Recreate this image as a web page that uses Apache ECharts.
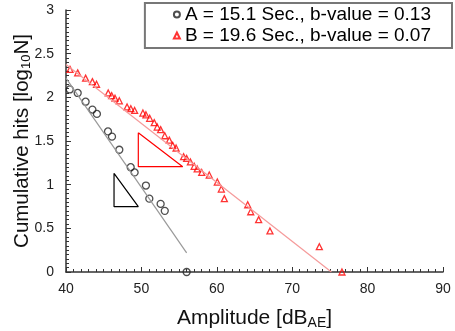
<!DOCTYPE html>
<html><head><meta charset="utf-8">
<script src="https://cdn.jsdelivr.net/npm/echarts@6/dist/echarts.min.js"></script>
<style>html,body{margin:0;padding:0;background:#fff}#c{width:455px;height:331px}</style>
</head><body><div id="c"></div>
<script>
var xA = [40.5, 41.55, 42.6, 43.5, 44.1, 45.57, 46.1, 47.07, 48.58, 49.1, 50.6, 51.05, 52.55, 53.1, 56.0];
var yA = [2.09, 2.05, 1.95, 1.86, 1.81, 1.61, 1.55, 1.40, 1.20, 1.14, 0.99, 0.84, 0.78, 0.70, 0];
var xB = [40.53, 41.55, 42.6, 43.5, 44.05, 45.6, 46.05, 46.5, 47.07, 48.1, 48.6, 49.1, 50.2, 50.6, 51.1, 51.7, 52.1, 52.55, 53.1, 53.7, 54.15, 54.6, 55.6, 56.0, 56.5, 57.0, 57.4, 58.0, 59.0, 60.07, 60.6, 61.0, 64.1, 64.5, 65.55, 67.05, 73.6, 76.6];
var yB = [2.32, 2.28, 2.22, 2.18, 2.15, 2.05, 2.02, 1.99, 1.96, 1.89, 1.87, 1.85, 1.82, 1.80, 1.76, 1.71, 1.66, 1.63, 1.56, 1.51, 1.45, 1.42, 1.32, 1.30, 1.26, 1.21, 1.18, 1.14, 1.11, 1.03, 0.95, 0.84, 0.77, 0.69, 0.60, 0.47, 0.29, 0];
var fitAx = [40, 56], fitAy = [2.22, 0.22];
var fitBx = [40, 75.2], fitBy = [2.376, 0];
var triAx = [46.37, 46.37, 49.59, 46.37], triAy = [1.13, 0.748, 0.748, 1.13];
var triBx = [49.59, 49.59, 55.48, 49.59], triBy = [1.595, 1.206, 1.206, 1.595];
var nameA = 'A = 15.1 Sec., b-value = 0.13';
var nameB = 'B = 19.6 Sec., b-value = 0.07';
function zip(a, b) { return a.map(function (v, i) { return [v, b[i]]; }); }
var F = 'Liberation Sans, Arial, sans-serif';
var chart = echarts.init(document.getElementById('c'));
chart.setOption({
  animation: false,
  textStyle: { fontFamily: F },
  grid: { left: 66, right: 12, top: 10, bottom: 59, containLabel: false, outerBoundsMode: 'none' },
  legend: {
    right: 3, top: 3, orient: 'vertical', itemGap: 2, itemWidth: 6, itemHeight: 6,
    padding: [2, 21, 3, 28],
    borderColor: '#777', borderWidth: 2,
    data: [nameA, nameB],
    textStyle: { fontFamily: F, fontSize: 19, color: '#000', lineHeight: 19 }
  },
  xAxis: {
    type: 'value', min: 40, max: 90, interval: 10,
    axisLine: { lineStyle: { color: '#333', width: 1.5 } },
    axisTick: { inside: true, length: 5, lineStyle: { color: '#333' } },
    minorTick: { show: true, splitNumber: 10, length: 3, lineStyle: { color: '#333' } },
    splitLine: { show: false },
    axisLabel: { fontSize: 14, color: '#222', margin: 10 },
    name: '{a|Amplitude [dB}{s|AE}{a|]}', nameLocation: 'middle', nameGap: 35,
    nameTextStyle: { rich: { a: { fontSize: 21, color: '#111', fontFamily: F }, s: { fontSize: 14, color: '#111', fontFamily: F, padding: [9, 0, 0, 0] } } }
  },
  yAxis: {
    type: 'value', min: 0, max: 3, interval: 0.5,
    axisLine: { show: true, lineStyle: { color: '#333', width: 1.5 } },
    axisTick: { show: true, inside: true, length: 5, lineStyle: { color: '#333' } },
    minorTick: { show: true, splitNumber: 10, length: 3, lineStyle: { color: '#333' } },
    splitLine: { show: false },
    axisLabel: { fontSize: 14, color: '#222', margin: 12 },
    name: '{a|Cumulative hits [log}{s|10}{a|N]}', nameLocation: 'middle', nameGap: 33, nameMoveOverlap: false,
    nameTextStyle: { rich: { a: { fontSize: 20.5, color: '#111', fontFamily: F }, s: { fontSize: 13, color: '#111', fontFamily: F, padding: [9, 0, 0, 0] } } }
  },
  series: [
    { type: 'line', data: zip(fitAx, fitAy), symbol: 'none', lineStyle: { color: '#999', width: 1.2 }, silent: true },
    { type: 'line', data: zip(fitBx, fitBy), symbol: 'none', lineStyle: { color: '#f59a9a', width: 1.2 }, silent: true },
    { type: 'line', data: zip(triAx, triAy), symbol: 'none', lineStyle: { color: '#000', width: 1.2 }, silent: true },
    { type: 'line', data: zip(triBx, triBy), symbol: 'none', lineStyle: { color: '#f00', width: 1.2 }, silent: true },
    { name: nameA, type: 'scatter', data: zip(xA, yA), symbol: 'circle', symbolSize: 7,
      itemStyle: { color: 'rgba(255,255,255,0)', borderColor: '#222', borderWidth: 1.3 } },
    { name: nameB, type: 'scatter', data: zip(xB, yB), symbol: 'triangle', symbolSize: 6,
      itemStyle: { color: 'rgba(255,255,255,0)', borderColor: '#f00', borderWidth: 1.3 } }
  ]
});
</script></body></html>
